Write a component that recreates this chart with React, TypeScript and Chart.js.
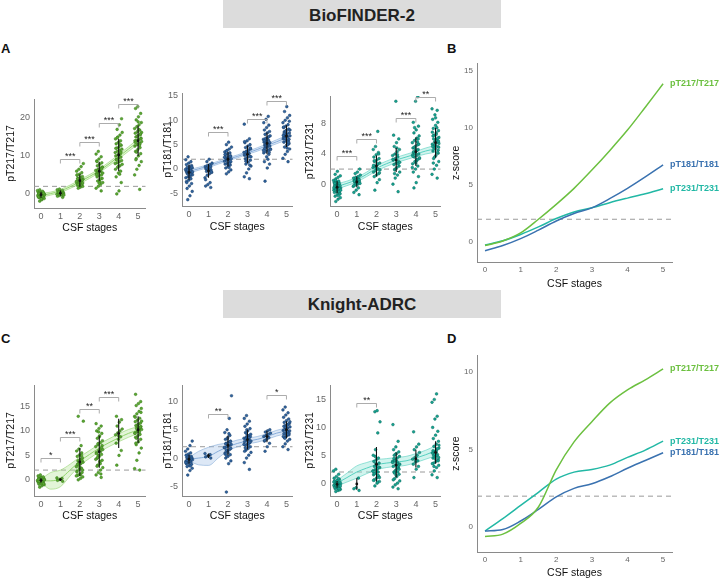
import React, { useEffect, useRef } from "react";
import { Chart, registerables } from "chart.js";

Chart.register(...registerables);

const FONT = "'Liberation Sans', Arial, Helvetica, sans-serif";
const STAGES = [0, 1, 2, 3, 4, 5];
const FIT_X = [0, 0.5, 1, 1.5, 2, 2.5, 3, 3.5, 4, 4.5, 5];
const THRESHOLD = 2;
const X_TITLE = "CSF stages";

// ---------------- BioFINDER-2 : values per CSF stage (0..5) ----------------
const bfT217Points: number[][] = [
  [-1.9, -1.5, -1.2, -1.0, -0.9, -0.8, -0.7, -0.6, -0.5, -0.4, -0.3, -0.3, -0.2, -0.1, 0, 0.1, 0.2, 0.3, 0.4, 0.5, 0.6, 0.7, 0.9, 1.1, -0.6, -0.2, 0, -1.3, 0.2, -0.8],
  [-0.9, -0.6, -0.4, -0.2, -0.1, 0, 0.1, 0.2, 0.3, 0.4, 0.5, 0.6, 0.7, 0.9, 1.1, 1.3, 0.2, -0.3, 0.5, 0],
  [1.5, 1.8, 2.0, 2.2, 2.4, 2.6, 2.8, 3.0, 3.1, 3.3, 3.5, 3.7, 3.9, 4.1, 4.3, 4.6, 4.9, 5.2, 5.6, 6.0, 6.5, 7.2, 8.0, 2.5, 3.4, 2.9, 4.0, 1.9, 3.6, 5.0],
  [0.8, 1.5, 2.0, 2.5, 3.0, 3.4, 3.8, 4.1, 4.5, 4.8, 5.0, 5.3, 5.6, 5.9, 6.2, 6.5, 6.8, 7.1, 7.4, 7.8, 8.2, 8.7, 9.2, 9.8, 10.5, 11.2, 4.0, 5.5, 6.0, 3.2, 7.0, 8.5, 2.8, 6.6, 5.1],
  [0, 0.8, 3.0, 4.5, 5.5, 6.0, 6.5, 7.0, 7.4, 7.8, 8.2, 8.5, 8.8, 9.1, 9.4, 9.7, 10.0, 10.3, 10.6, 10.9, 11.2, 11.5, 11.8, 12.1, 12.4, 12.8, 13.2, 13.6, 14.0, 14.5, 15.0, 15.5, 16.2, 17.0, 18.2, 19.8, 9.0, 10.2, 11.0, 12.0, 7.2, 13.0, 8.0, 14.8, 5.2],
  [1.2, 5.0, 6.5, 7.5, 8.5, 9.3, 10.0, 10.6, 11.2, 11.7, 12.2, 12.6, 13.0, 13.4, 13.8, 14.1, 14.4, 14.7, 15.0, 15.3, 15.6, 16.0, 16.4, 16.8, 17.2, 17.7, 18.2, 18.8, 19.5, 20.3, 21.2, 22.5, 23.0, 13.2, 14.0, 15.2, 12.8, 16.2, 11.0, 17.0, 14.5, 9.0, 19.0, 15.8, 13.6],
];
const bfT217Range = [[-1, 0.6], [-0.5, 0.9], [1.8, 5.2], [3.5, 8.5], [6, 14.5], [10, 18]];
const bfT217Fit = [-0.4, 0.1, 0.8, 1.9, 3.2, 4.6, 6.1, 7.9, 9.8, 11.8, 13.8];
const bfT217Half = [0.5, 0.4, 0.4, 0.45, 0.5, 0.5, 0.5, 0.5, 0.55, 0.6, 0.7];
const bfT217Sig = [
  { a: 1, b: 2, y: 9.2, t: "***" },
  { a: 2, b: 3, y: 13.7, t: "***" },
  { a: 3, b: 4, y: 18.7, t: "***" },
  { a: 4, b: 5, y: 23.7, t: "***" },
];

const bfT181Points: number[][] = [
  [-6.3, -5.5, -4.6, -4.0, -3.5, -3.0, -2.6, -2.3, -2.0, -1.8, -1.6, -1.4, -1.2, -1.0, -0.9, -0.8, -0.7, -0.6, -0.5, -0.4, -0.3, -0.2, -0.1, 0, 0.1, 0.2, 0.3, 0.5, 0.7, 0.9, 1.2, 1.5, 1.9, 2.5, -1.1, -0.6, -0.2, -1.5, 0.4, -2.8],
  [-3.8, -3.5, -3.2, -2.8, -1.8, -1.3, -1.0, -0.7, -0.5, -0.3, -0.2, 0, 0.1, 0.3, 0.5, 0.7, 0.9, 1.2, 1.5, 2.0, -0.6, 0.2, -0.1, 0.6, -2.2],
  [-1.0, -0.6, -0.2, 0.2, 0.5, 0.8, 1.0, 1.2, 1.4, 1.6, 1.8, 2.0, 2.1, 2.3, 2.5, 2.7, 2.9, 3.1, 3.3, 3.5, 3.8, 4.1, 4.5, 5.0, 5.5, 1.5, 2.2, 0.9, 2.6, 3.0, 1.9, 1.1, 2.4, 3.7, 0.3],
  [-2.0, -1.6, -0.8, 0, 0.6, 1.0, 1.4, 1.8, 2.1, 2.4, 2.6, 2.8, 3.0, 3.2, 3.4, 3.6, 3.8, 4.1, 4.4, 4.7, 5.0, 5.4, 5.8, 6.2, 9.2, 2.0, 3.1, 2.5, 1.6, 3.9, 4.3, 2.9, 3.3, 0.8, 5.6],
  [-2.5, 0.2, 1.0, 1.5, 2.5, 3.0, 3.3, 3.6, 3.9, 4.1, 4.3, 4.5, 4.7, 4.9, 5.1, 5.3, 5.5, 5.7, 5.9, 6.1, 6.3, 6.5, 6.8, 7.1, 7.4, 7.7, 8.0, 8.5, 9.0, 9.5, 10.2, 10.8, 4.0, 4.6, 5.0, 5.4, 4.2, 6.0, 3.4, 5.8, 4.8, 6.6, 3.8, 5.2, 2.0],
  [1.5, 2.2, 3.0, 3.6, 4.1, 4.5, 4.9, 5.2, 5.5, 5.8, 6.0, 6.2, 6.4, 6.6, 6.8, 7.0, 7.2, 7.4, 7.6, 7.9, 8.2, 8.5, 8.8, 9.1, 9.5, 10.0, 10.5, 11.0, 11.8, 12.8, 6.1, 6.5, 7.1, 5.6, 6.9, 7.8, 5.0, 8.0, 6.3, 4.3, 9.8, 7.3, 6.7, 5.4, 8.6],
];
const bfT181Range = [[-2.2, 0.8], [-1.8, 1.0], [0.5, 3.5], [1.2, 4.8], [3, 7.5], [4.5, 9]];
const bfT181Fit = [-0.5, 0.05, 0.6, 1.3, 2.0, 2.6, 3.3, 4.0, 4.8, 5.6, 6.4];
const bfT181Half = [0.35, 0.3, 0.3, 0.3, 0.3, 0.3, 0.3, 0.35, 0.35, 0.4, 0.45];
const bfT181Sig = [
  { a: 1, b: 2, y: 7.6, t: "***" },
  { a: 3, b: 4, y: 10.3, t: "***" },
  { a: 4, b: 5, y: 14.0, t: "***" },
];

const bfT231Points: number[][] = [
  [-2.3, -2.0, -1.8, -1.6, -1.4, -1.2, -1.1, -1.0, -0.9, -0.8, -0.7, -0.6, -0.5, -0.4, -0.3, -0.2, -0.1, 0, 0.1, 0.2, 0.3, 0.4, 0.5, 0.7, 0.9, 1.1, 1.3, 1.7, -0.6, -0.3, 0, -1.0, -0.5, 0.2, -1.5, -0.8, 0.5, -0.2, -1.3, 0.1],
  [-1.4, -1.1, -0.8, -0.5, -0.3, -0.1, 0, 0.1, 0.2, 0.3, 0.4, 0.5, 0.6, 0.7, 0.8, 0.9, 1.0, 1.2, 1.4, 1.6, 2.0, 0.4, 0.2, 0.6, -0.2],
  [-0.8, 0.2, 0.6, 1.0, 1.2, 1.4, 1.6, 1.8, 2.0, 2.2, 2.4, 2.6, 2.8, 3.0, 3.2, 3.4, 3.6, 3.9, 4.2, 4.6, 5.0, 7.0, 1.9, 2.3, 2.7, 1.5, 3.1, 2.1, 4.0, 2.5],
  [-1.0, 0, 0.8, 1.2, 1.6, 1.9, 2.2, 2.4, 2.6, 2.8, 3.0, 3.2, 3.4, 3.6, 3.8, 4.0, 4.3, 4.6, 5.0, 5.5, 6.0, 6.5, 11.0, 2.7, 3.3, 2.0, 3.9, 2.9, 1.4, 4.8],
  [-0.5, 0.2, 1.0, 1.6, 2.0, 2.4, 2.7, 3.0, 3.2, 3.4, 3.6, 3.8, 4.0, 4.2, 4.4, 4.6, 4.8, 5.0, 5.2, 5.5, 5.8, 6.1, 6.4, 6.8, 7.2, 7.7, 8.2, 11.0, 11.6, 3.9, 4.1, 4.5, 3.5, 4.9, 3.1, 5.3, 4.3, 2.8, 6.0, 3.7, 4.7, 5.6, 2.2, 7.5, 3.3],
  [0.8, 1.3, 2.0, 2.5, 3.0, 3.4, 3.8, 4.1, 4.4, 4.7, 5.0, 5.3, 5.6, 5.9, 6.2, 6.5, 6.8, 7.1, 7.4, 7.8, 8.2, 8.6, 9.2, 9.8, 10.0, 5.1, 5.5, 4.9, 6.0, 5.8, 4.5, 6.4, 5.2, 4.2, 6.9, 3.6, 7.5, 5.4, 4.8, 6.6, 5.7, 2.8, 8.8, 6.1, 5.0],
];
const bfT231Range = [[-1.2, 0.4], [-0.4, 1.0], [1.0, 3.8], [1.6, 4.8], [2.4, 6.2], [3.5, 7.5]];
const bfT231Fit = [-0.3, 0.1, 0.6, 1.3, 2.1, 2.7, 3.2, 3.6, 4.0, 4.4, 4.7];
const bfT231Half = [0.35, 0.3, 0.3, 0.3, 0.35, 0.35, 0.35, 0.35, 0.35, 0.4, 0.45];
const bfT231Sig = [
  { a: 0, b: 1, y: 3.7, t: "***" },
  { a: 1, b: 2, y: 6.0, t: "***" },
  { a: 3, b: 4, y: 8.8, t: "***" },
  { a: 4, b: 5, y: 11.6, t: "**" },
];

// ---------------- Knight-ADRC : values per CSF stage (0..5) ----------------
const kaT217Points: number[][] = [
  [-1.5, -1.2, -1.0, -0.9, -0.8, -0.7, -0.6, -0.5, -0.4, -0.3, -0.2, -0.1, 0, 0.1, 0.2, 0.3, 0.4, 0.5, 0.6, 0.8, 1.0, -0.4, -0.1, 0.2, -0.6, 0, -0.3, 0.3, -0.8, 0.1],
  [-0.3, -0.1, 0.1, 0.3, 0.4],
  [0, 0.3, 0.6, 0.9, 1.2, 1.5, 1.8, 2.1, 2.4, 2.7, 3.0, 3.3, 3.6, 3.9, 4.2, 4.5, 4.8, 5.1, 5.5, 5.9, 6.3, 7.0, 12.0, 13.0, 1.0, 2.0, 3.2, 2.5, 4.0, 1.6, 3.5, 5.0, 0.8],
  [0.5, 1.0, 1.5, 2.0, 2.5, 3.0, 3.5, 4.0, 4.4, 4.8, 5.2, 5.6, 6.0, 6.4, 6.8, 7.2, 7.6, 8.0, 8.5, 9.0, 9.5, 10.0, 10.5, 11.0, 11.5, 5.0, 5.8, 6.2, 4.6, 3.8, 7.0, 2.8, 8.8, 6.6, 5.4, 9.8, 1.2, 4.2, 7.4, 3.3],
  [3.0, 5.0, 6.0, 7.5, 8.3, 8.8, 9.2, 9.6, 10.0, 10.4, 11.0, 11.8, 12.3, 13.0, 9.0],
  [2.0, 2.3, 4.0, 5.5, 6.5, 7.2, 7.8, 8.3, 8.7, 9.0, 9.3, 9.6, 9.9, 10.1, 10.3, 10.5, 10.7, 10.9, 11.1, 11.3, 11.6, 11.9, 12.2, 12.6, 13.0, 13.5, 14.0, 14.6, 15.2, 15.6, 16.0, 17.5, 10.0, 10.6, 9.5, 11.0, 9.8, 12.0, 8.5, 10.4, 13.8, 7.5, 11.4, 10.8, 12.8],
];
const kaT217Range = [[-0.6, 0.4], [-0.2, 0.3], [0.8, 6.5], [2.5, 9], [6.5, 12.5], [7.5, 13]];
const kaT217Fit = [-0.2, -0.2, 0.3, 2.0, 3.8, 5.2, 6.5, 7.6, 8.6, 9.5, 10.2];
const kaT217Half = [0.3, 1.7, 1.7, 1.2, 0.9, 0.8, 0.8, 0.8, 0.8, 0.8, 0.7];
const kaT217Sig = [
  { a: 0, b: 1, y: 4.5, t: "*" },
  { a: 1, b: 2, y: 8.8, t: "***" },
  { a: 2, b: 3, y: 14.5, t: "**" },
  { a: 3, b: 4, y: 17.0, t: "***" },
];

const kaT181Points: number[][] = [
  [-3.0, -2.2, -1.8, -1.5, -1.3, -1.1, -0.9, -0.8, -0.7, -0.6, -0.5, -0.4, -0.3, -0.2, -0.1, 0, 0.1, 0.2, 0.3, 0.5, 0.7, 0.9, 1.2, 1.6, 2.2, 3.0, -0.4, -0.6, 0, -1.0, 0.4, -0.2, -0.8, 0.2, -1.4],
  [0, 0.2, 0.4, 0.6, 0.8],
  [-6.0, -1.0, -0.5, 0, 0.3, 0.6, 0.9, 1.2, 1.5, 1.8, 2.0, 2.2, 2.4, 2.6, 2.8, 3.0, 3.3, 3.6, 4.0, 4.5, 5.0, 7.0, 11.0, 1.4, 2.1, 1.7, 2.5, 1.0, 2.9, 0.7, 3.4, 2.3, 1.9, 0.4, 4.3],
  [-2.0, -0.8, 0, 0.5, 1.0, 1.4, 1.7, 2.0, 2.3, 2.5, 2.7, 2.9, 3.1, 3.3, 3.5, 3.7, 3.9, 4.2, 4.5, 4.8, 5.2, 5.6, 6.0, 6.5, 7.0, 7.5, 2.6, 3.0, 3.4, 2.2, 3.8, 1.8, 4.0, 2.8, 1.2, 5.0, 3.6, 2.4, 4.4, 3.2],
  [1.2, 2.0, 2.6, 3.0, 3.3, 3.6, 3.8, 4.0, 4.2, 4.4, 4.6, 4.8, 5.0, 3.1, 3.9],
  [1.5, 2.0, 2.5, 3.0, 3.3, 3.6, 3.9, 4.1, 4.3, 4.5, 4.7, 4.9, 5.1, 5.3, 5.5, 5.7, 5.9, 6.1, 6.3, 6.6, 6.9, 7.2, 7.6, 8.0, 8.5, 9.0, 4.6, 4.8, 5.0, 5.2, 4.4, 5.6, 4.0, 6.0, 3.8, 5.4, 4.2, 6.4, 3.5, 5.8],
];
const kaT181Range = [[-1, 0.6], [0, 0.8], [0.5, 4.0], [1.5, 5.0], [2.8, 4.8], [3.5, 6.5]];
const kaT181Fit = [-0.2, 0.0, 0.3, 1.2, 2.0, 2.6, 3.0, 3.3, 3.8, 4.4, 4.8];
const kaT181Half = [0.3, 1.2, 1.6, 1.2, 0.7, 0.6, 0.5, 0.5, 0.5, 0.5, 0.5];
const kaT181Sig = [
  { a: 1, b: 2, y: 7.8, t: "**" },
  { a: 4, b: 5, y: 11.1, t: "*" },
];

const kaT231Points: number[][] = [
  [-1.5, -1.3, -1.1, -1.0, -0.9, -0.8, -0.7, -0.6, -0.5, -0.4, -0.3, -0.2, -0.1, 0, 0.1, 0.2, 0.3, 0.5, 0.7, 0.9, 1.2, 1.6, 2.2, 2.5, -0.8, -0.5, -0.2, 0, -1.2, 0.4, -0.6, -1.0, 0.2, -0.3, 0.8],
  [-1.3, -1.0, -0.8, 0.9],
  [-0.5, 0, 0.3, 0.6, 0.9, 1.2, 1.5, 1.8, 2.0, 2.2, 2.4, 2.6, 2.8, 3.0, 3.3, 3.6, 3.9, 4.2, 4.5, 5.0, 6.0, 9.0, 11.0, 12.8, 13.0, 1.0, 1.7, 2.3, 2.9, 0.5, 3.5, 1.4, 2.1, 4.8, 0.2],
  [-1.0, -0.7, -0.3, 0, 0.4, 0.8, 1.2, 1.6, 2.0, 2.4, 2.7, 3.0, 3.3, 3.6, 3.9, 4.2, 4.5, 4.8, 5.0, 5.3, 5.6, 6.0, 6.5, 7.5, 10.5, 2.2, 2.8, 3.4, 1.8, 3.9, 2.5, 4.4, 1.4, 3.1, 0.6, 5.2, 2.0, 3.7, 4.0, 2.9],
  [1.0, 2.5, 3.0, 3.4, 3.8, 4.0, 4.3, 4.6, 5.0, 5.5, 6.0, 6.5, 7.0, 9.2, 4.1],
  [1.0, 1.5, 2.2, 2.8, 3.2, 3.6, 3.9, 4.2, 4.5, 4.8, 5.1, 5.4, 5.7, 6.0, 6.3, 6.6, 7.0, 7.5, 8.0, 8.6, 9.3, 10.0, 11.5, 12.0, 14.5, 15.0, 16.0, 4.6, 5.0, 5.5, 4.0, 5.8, 4.4, 6.2, 3.5, 5.2, 4.9, 6.8, 3.0, 5.6],
];
const kaT231Range = [[-0.8, 0.4], [-1.2, 0.9], [0.3, 6.5], [1.0, 5.5], [2.8, 6.0], [3.5, 7.5]];
const kaT231Fit = [0.0, 1.0, 2.0, 2.7, 3.3, 3.6, 3.8, 4.0, 4.5, 5.1, 5.8];
const kaT231Half = [0.5, 0.8, 1.1, 1.0, 0.9, 0.8, 0.8, 0.8, 0.8, 0.8, 0.9];
const kaT231Sig = [{ a: 1, b: 2, y: 14.3, t: "**" }];

// ---------------- z-score trajectories (B, D) ----------------
const bfZ217 = [-0.3, 0.1, 0.8, 2.0, 3.3, 4.7, 6.3, 8.0, 9.8, 11.8, 13.85];
const bfZ181 = [-0.75, -0.3, 0.3, 1.05, 1.85, 2.5, 3.0, 3.8, 4.7, 5.7, 6.75];
const bfZ231 = [-0.26, 0.12, 0.67, 1.33, 2.06, 2.64, 3.0, 3.45, 3.85, 4.23, 4.67];
const kaZ217 = [-0.6, -0.45, 0.24, 1.3, 3.7, 5.5, 6.8, 8.0, 8.85, 9.5, 10.2];
const kaZ181 = [-0.25, -0.15, 0.4, 1.15, 1.95, 2.5, 2.8, 3.25, 3.8, 4.3, 4.8];
const kaZ231 = [-0.25, 0.55, 1.4, 2.25, 3.1, 3.55, 3.72, 4.0, 4.5, 4.97, 5.55];

// ---------------- colours ----------------
const GREEN = { pt: "#5aa832", ptB: "#3b7a1c", fit: "#93d46e", band: "rgba(175,226,142,0.35)", line: "#6cc040" };
const BLUE = { pt: "#2f64a0", ptB: "#1c3e66", fit: "#86acd9", band: "rgba(158,188,230,0.35)", line: "#3a72b0" };
const TEAL = { pt: "#16a592", ptB: "#0c6b5e", fit: "#55d0bf", band: "rgba(135,225,210,0.38)", line: "#22b8a5" };
const AXIS = "#8a8a8a";

type Sig = { a: number; b: number; y: number; t: string };
type Box = { l: number; t: number; w: number; h: number; axL: number; axR: number; axT: number; axB: number };
type StripSpec = {
  box: Box; xmin: number; xmax: number; ymin: number; ymax: number; yticks: number[]; ytitle: string;
  points: number[][]; ranges: number[][]; fit: number[]; half: number[]; sig: Sig[];
  col: typeof GREEN;
};

function jitter(i: number, st: number) {
  const k = (i * 53 + st * 11 + 7) % 23;
  return (k / 22 - 0.5) * 0.36;
}

function scalesFor(box: Box, xmin: number, xmax: number, ymin: number, ymax: number, yticks: number[], ytitle: string, tickSize: number, titleSize: number) {
  return {
    x: {
      type: "linear", min: xmin, max: xmax,
      afterBuildTicks: (sc: any) => { sc.ticks = STAGES.map((v) => ({ value: v })); },
      afterFit: (sc: any) => { sc.height = box.t + box.h - box.axB; },
      grid: { display: false, drawTicks: false },
      border: { display: true, color: AXIS, width: 1 },
      ticks: { font: { family: FONT, size: tickSize }, color: "#666", padding: 3, maxRotation: 0 },
      title: { display: true, text: X_TITLE, font: { family: FONT, size: titleSize }, color: "#111", padding: 0 },
    },
    y: {
      type: "linear", min: ymin, max: ymax,
      afterBuildTicks: (sc: any) => { sc.ticks = yticks.map((v) => ({ value: v })); },
      afterFit: (sc: any) => { sc.width = box.axL - box.l; },
      grid: { display: false, drawTicks: false },
      border: { display: true, color: AXIS, width: 1 },
      ticks: { font: { family: FONT, size: tickSize }, color: "#666", padding: 4 },
      title: { display: true, text: ytitle, font: { family: FONT, size: titleSize }, color: "#111", padding: 0 },
    },
  };
}

function thresholdLine(chart: any) {
  const { ctx, chartArea, scales } = chart;
  const y = scales.y.getPixelForValue(THRESHOLD);
  ctx.save();
  ctx.strokeStyle = "#9a9a9a";
  ctx.lineWidth = 1;
  ctx.setLineDash([5, 4]);
  ctx.beginPath();
  ctx.moveTo(chartArea.left, y);
  ctx.lineTo(chartArea.right, y);
  ctx.stroke();
  ctx.restore();
}

function stripConfig(s: StripSpec): any {
  const pts: { x: number; y: number }[] = [];
  s.points.forEach((vals, st) => vals.forEach((v, i) => pts.push({ x: st + jitter(i, st), y: v })));
  const whisk: { x: number; y: number | null }[] = [];
  s.ranges.forEach((r, st) => { whisk.push({ x: st, y: r[0] }, { x: st, y: r[1] }, { x: st, y: null }); });
  const mids = s.ranges.map((r, st) => ({ x: st, y: (r[0] + r[1]) / 2 }));
  const fit = FIT_X.map((x, i) => ({ x, y: s.fit[i] }));
  const up = FIT_X.map((x, i) => ({ x, y: s.fit[i] + s.half[i] }));
  const lo = FIT_X.map((x, i) => ({ x, y: s.fit[i] - s.half[i] }));
  const sig = s.sig;
  const box = s.box;
  return {
    type: "scatter",
    data: {
      datasets: [
        { type: "scatter", data: mids, pointRadius: 1.4, backgroundColor: "#111", borderColor: "#111", borderWidth: 0 },
        { type: "line", data: whisk, borderColor: "#111", borderWidth: 1.1, pointRadius: 0, spanGaps: false, fill: false },
        { type: "scatter", data: pts, pointRadius: 1.35, backgroundColor: s.col.pt, borderColor: s.col.ptB, borderWidth: 0.5 },
        { type: "line", data: fit, borderColor: s.col.fit, borderWidth: 1, pointRadius: 0, cubicInterpolationMode: "monotone", fill: false },
        { type: "line", data: up, borderColor: s.col.fit, borderWidth: 0.6, pointRadius: 0, cubicInterpolationMode: "monotone", fill: false },
        { type: "line", data: lo, borderColor: s.col.fit, borderWidth: 0.6, pointRadius: 0, cubicInterpolationMode: "monotone", fill: "-1", backgroundColor: s.col.band },
      ],
    },
    options: {
      animation: false, responsive: false, events: [],
      layout: { padding: { left: 0, bottom: 0, top: box.axT - box.t, right: box.l + box.w - box.axR } },
      plugins: { legend: { display: false }, tooltip: { enabled: false } },
      scales: scalesFor(box, s.xmin, s.xmax, s.ymin, s.ymax, s.yticks, s.ytitle, 9, 10.5),
    },
    plugins: [
      {
        id: "stripDecor",
        beforeDatasetsDraw: (chart: any) => thresholdLine(chart),
        afterDatasetsDraw: (chart: any) => {
          const { ctx, scales } = chart;
          ctx.save();
          ctx.strokeStyle = "#a3a3a3";
          ctx.lineWidth = 0.9;
          ctx.fillStyle = "#222";
          ctx.font = `9px ${FONT}`;
          ctx.textAlign = "center";
          ctx.textBaseline = "alphabetic";
          sig.forEach((g) => {
            const x1 = scales.x.getPixelForValue(g.a);
            const x2 = scales.x.getPixelForValue(g.b);
            const y = Math.round(scales.y.getPixelForValue(g.y)) + 0.5;
            ctx.beginPath();
            ctx.moveTo(x1, y + 4);
            ctx.lineTo(x1, y);
            ctx.lineTo(x2, y);
            ctx.lineTo(x2, y + 4);
            ctx.stroke();
            ctx.fillText(g.t, (x1 + x2) / 2, y - 1);
          });
          ctx.restore();
        },
      },
    ],
  };
}

type ZSpec = { box: Box; ymin: number; ymax: number; yticks: number[]; series: { label: string; values: number[]; color: string }[] };

function zConfig(s: ZSpec): any {
  const box = s.box;
  const series = s.series;
  return {
    type: "line",
    data: {
      datasets: series.map((ser) => ({
        data: FIT_X.map((x, i) => ({ x, y: ser.values[i] })),
        borderColor: ser.color, borderWidth: 1.5, pointRadius: 0, cubicInterpolationMode: "monotone", fill: false,
      })),
    },
    options: {
      animation: false, responsive: false, events: [],
      layout: { padding: { left: 0, bottom: 0, top: box.axT - box.t, right: box.l + box.w - box.axR } },
      plugins: { legend: { display: false }, tooltip: { enabled: false } },
      scales: scalesFor(box, -0.225, 5.25, s.ymin, s.ymax, s.yticks, "z-score", 8, 10.5),
    },
    plugins: [
      {
        id: "zDecor",
        beforeDatasetsDraw: (chart: any) => thresholdLine(chart),
        afterDatasetsDraw: (chart: any) => {
          const { ctx } = chart;
          ctx.save();
          ctx.font = `bold 9px ${FONT}`;
          ctx.textAlign = "left";
          ctx.textBaseline = "middle";
          series.forEach((ser, i) => {
            const meta = chart.getDatasetMeta(i);
            const p = meta.data[meta.data.length - 1];
            ctx.fillStyle = ser.color;
            ctx.fillText(ser.label, p.x + 7, p.y);
          });
          ctx.restore();
        },
      },
    ],
  };
}

const specA1: StripSpec = {
  box: { l: 5, t: 80, w: 145, h: 154, axL: 34, axR: 146, axT: 99, axB: 208 },
  xmin: -0.36, xmax: 5.38, ymin: -3.7, ymax: 25, yticks: [0, 10, 20], ytitle: "pT217/T217",
  points: bfT217Points, ranges: bfT217Range, fit: bfT217Fit, half: bfT217Half, sig: bfT217Sig, col: GREEN,
};
const specA2: StripSpec = {
  box: { l: 162, t: 80, w: 135, h: 153, axL: 182, axR: 293, axT: 93, axB: 206 },
  xmin: -0.36, xmax: 5.31, ymin: -7.6, ymax: 15.6, yticks: [-5, 0, 5, 10, 15], ytitle: "pT181/T181",
  points: bfT181Points, ranges: bfT181Range, fit: bfT181Fit, half: bfT181Half, sig: bfT181Sig, col: BLUE,
};
const specA3: StripSpec = {
  box: { l: 304, t: 80, w: 141, h: 153, axL: 330, axR: 441, axT: 96, axB: 206 },
  xmin: -0.36, xmax: 5.25, ymin: -2.9, ymax: 11.7, yticks: [0, 4, 8], ytitle: "pT231/T231",
  points: bfT231Points, ranges: bfT231Range, fit: bfT231Fit, half: bfT231Half, sig: bfT231Sig, col: TEAL,
};
const specC1: StripSpec = {
  box: { l: 5, t: 370, w: 145, h: 152, axL: 34, axR: 146, axT: 385, axB: 496 },
  xmin: -0.36, xmax: 5.38, ymin: -3.3, ymax: 19.4, yticks: [0, 5, 10, 15], ytitle: "pT217/T217",
  points: kaT217Points, ranges: kaT217Range, fit: kaT217Fit, half: kaT217Half, sig: kaT217Sig, col: GREEN,
};
const specC2: StripSpec = {
  box: { l: 162, t: 370, w: 135, h: 152, axL: 182, axR: 293, axT: 385, axB: 496 },
  xmin: -0.36, xmax: 5.31, ymin: -6.7, ymax: 12.9, yticks: [-5, 0, 5, 10], ytitle: "pT181/T181",
  points: kaT181Points, ranges: kaT181Range, fit: kaT181Fit, half: kaT181Half, sig: kaT181Sig, col: BLUE,
};
const specC3: StripSpec = {
  box: { l: 304, t: 370, w: 141, h: 152, axL: 330, axR: 441, axT: 385, axB: 496 },
  xmin: -0.36, xmax: 5.25, ymin: -2.3, ymax: 17.6, yticks: [0, 5, 10, 15], ytitle: "pT231/T231",
  points: kaT231Points, ranges: kaT231Range, fit: kaT231Fit, half: kaT231Half, sig: kaT231Sig, col: TEAL,
};
const specB: ZSpec = {
  box: { l: 450, t: 55, w: 270, h: 235, axL: 477, axR: 672, axT: 63, axB: 262 },
  ymin: -1.74, ymax: 15.6, yticks: [0, 5, 10, 15],
  series: [
    { label: "pT217/T217", values: bfZ217, color: GREEN.line },
    { label: "pT181/T181", values: bfZ181, color: BLUE.line },
    { label: "pT231/T231", values: bfZ231, color: TEAL.line },
  ],
};
const specD: ZSpec = {
  box: { l: 450, t: 340, w: 270, h: 239, axL: 477, axR: 672, axT: 355, axB: 552 },
  ymin: -1.6, ymax: 11.1, yticks: [0, 5, 10],
  series: [
    { label: "pT217/T217", values: kaZ217, color: GREEN.line },
    { label: "pT181/T181", values: kaZ181, color: BLUE.line },
    { label: "pT231/T231", values: kaZ231, color: TEAL.line },
  ],
};

function ChartCanvas({ box, build }: { box: Box; build: () => any }) {
  const ref = useRef<HTMLCanvasElement>(null);
  useEffect(() => {
    if (!ref.current) return;
    const chart = new Chart(ref.current, build());
    return () => chart.destroy();
  }, []);
  return (
    <canvas
      ref={ref}
      width={box.w}
      height={box.h}
      style={{ position: "absolute", left: box.l, top: box.t, width: box.w, height: box.h }}
    />
  );
}

const barStyle = (top: number, lh: number): React.CSSProperties => ({
  position: "absolute", left: 223, top, width: 278, height: 28, background: "#dcdcdc",
  fontWeight: "bold", fontSize: 17, lineHeight: `${lh}px`, textAlign: "center", color: "#222", overflow: "hidden",
});
const letterStyle = (left: number, top: number): React.CSSProperties => ({
  position: "absolute", left, top, fontWeight: "bold", fontSize: 13, lineHeight: "13px", color: "#111",
});

export default function App() {
  return (
    <div style={{ position: "absolute", left: 0, top: 0, width: 720, height: 579, background: "#fff", overflow: "hidden", fontFamily: FONT }}>
      <div style={barStyle(0, 32)}>BioFINDER-2</div>
      <div style={barStyle(290, 29)}>Knight-ADRC</div>
      <div style={letterStyle(1, 42)}>A</div>
      <div style={letterStyle(447, 42)}>B</div>
      <div style={letterStyle(1, 332)}>C</div>
      <div style={letterStyle(447, 332)}>D</div>
      <ChartCanvas box={specA1.box} build={() => stripConfig(specA1)} />
      <ChartCanvas box={specA2.box} build={() => stripConfig(specA2)} />
      <ChartCanvas box={specA3.box} build={() => stripConfig(specA3)} />
      <ChartCanvas box={specB.box} build={() => zConfig(specB)} />
      <ChartCanvas box={specC1.box} build={() => stripConfig(specC1)} />
      <ChartCanvas box={specC2.box} build={() => stripConfig(specC2)} />
      <ChartCanvas box={specC3.box} build={() => stripConfig(specC3)} />
      <ChartCanvas box={specD.box} build={() => zConfig(specD)} />
    </div>
  );
}
